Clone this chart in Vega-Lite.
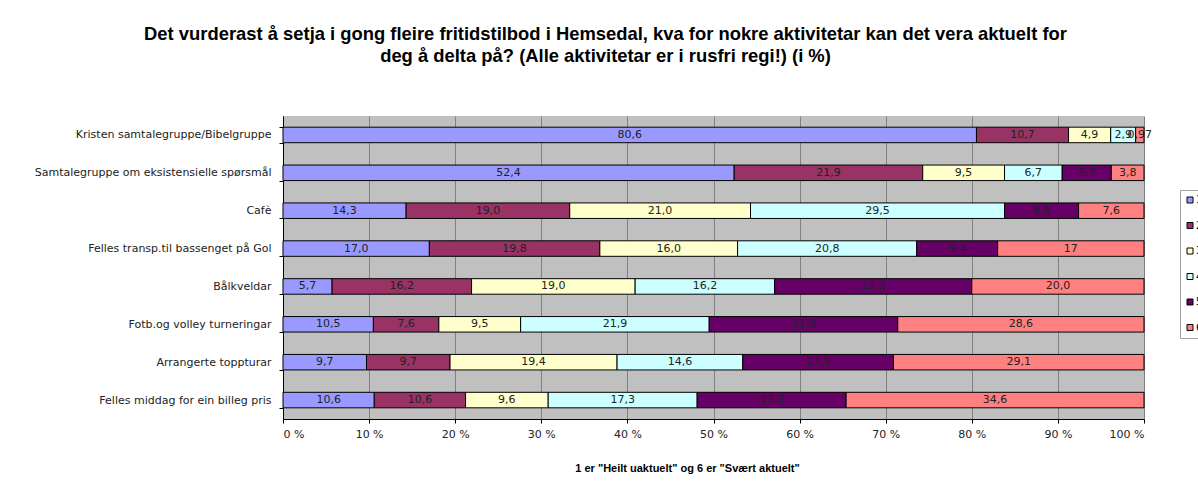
{
  "$schema": "https://vega.github.io/schema/vega-lite/v6.json",
  "width": 861,
  "height": 303,
  "autosize": {"type": "none"},
  "padding": {"left": 283, "top": 116, "right": 54, "bottom": 71},
  "background": "white",
  "title": {
    "text": ["Det vurderast å setja i gong fleire fritidstilbod i Hemsedal, kva for nokre aktivitetar kan det vera aktuelt for", "deg å delta på? (Alle aktivitetar er i rusfri regi!) (i %)"],
    "font": "Liberation Sans",
    "fontSize": 18.4,
    "fontWeight": "bold",
    "color": "#000000",
    "anchor": "middle",
    "dx": -108,
    "baseline": "alphabetic",
    "lineHeight": 22,
    "offset": 30
  },
  "data": {
    "values": [
      {"activity": "Kristen samtalegruppe/Bibelgruppe", "level": "1", "value": 80.6, "label": "80,6"},
      {"activity": "Kristen samtalegruppe/Bibelgruppe", "level": "2", "value": 10.7, "label": "10,7"},
      {"activity": "Kristen samtalegruppe/Bibelgruppe", "level": "3", "value": 4.9, "label": "4,9"},
      {"activity": "Kristen samtalegruppe/Bibelgruppe", "level": "4", "value": 2.9, "label": "2,9"},
      {"activity": "Kristen samtalegruppe/Bibelgruppe", "level": "5", "value": 0.0, "label": "0,0"},
      {"activity": "Kristen samtalegruppe/Bibelgruppe", "level": "6", "value": 0.97, "label": "0,97"},
      {"activity": "Samtalegruppe om eksistensielle spørsmål", "level": "1", "value": 52.4, "label": "52,4"},
      {"activity": "Samtalegruppe om eksistensielle spørsmål", "level": "2", "value": 21.9, "label": "21,9"},
      {"activity": "Samtalegruppe om eksistensielle spørsmål", "level": "3", "value": 9.5, "label": "9,5"},
      {"activity": "Samtalegruppe om eksistensielle spørsmål", "level": "4", "value": 6.7, "label": "6,7"},
      {"activity": "Samtalegruppe om eksistensielle spørsmål", "level": "5", "value": 5.7, "label": "5,7"},
      {"activity": "Samtalegruppe om eksistensielle spørsmål", "level": "6", "value": 3.8, "label": "3,8"},
      {"activity": "Cafè", "level": "1", "value": 14.3, "label": "14,3"},
      {"activity": "Cafè", "level": "2", "value": 19.0, "label": "19,0"},
      {"activity": "Cafè", "level": "3", "value": 21.0, "label": "21,0"},
      {"activity": "Cafè", "level": "4", "value": 29.5, "label": "29,5"},
      {"activity": "Cafè", "level": "5", "value": 8.6, "label": "8,6"},
      {"activity": "Cafè", "level": "6", "value": 7.6, "label": "7,6"},
      {"activity": "Felles transp.til bassenget på Gol", "level": "1", "value": 17.0, "label": "17,0"},
      {"activity": "Felles transp.til bassenget på Gol", "level": "2", "value": 19.8, "label": "19,8"},
      {"activity": "Felles transp.til bassenget på Gol", "level": "3", "value": 16.0, "label": "16,0"},
      {"activity": "Felles transp.til bassenget på Gol", "level": "4", "value": 20.8, "label": "20,8"},
      {"activity": "Felles transp.til bassenget på Gol", "level": "5", "value": 9.4, "label": "9,4"},
      {"activity": "Felles transp.til bassenget på Gol", "level": "6", "value": 17, "label": "17"},
      {"activity": "Bålkveldar", "level": "1", "value": 5.7, "label": "5,7"},
      {"activity": "Bålkveldar", "level": "2", "value": 16.2, "label": "16,2"},
      {"activity": "Bålkveldar", "level": "3", "value": 19.0, "label": "19,0"},
      {"activity": "Bålkveldar", "level": "4", "value": 16.2, "label": "16,2"},
      {"activity": "Bålkveldar", "level": "5", "value": 22.9, "label": "22,9"},
      {"activity": "Bålkveldar", "level": "6", "value": 20.0, "label": "20,0"},
      {"activity": "Fotb.og volley turneringar", "level": "1", "value": 10.5, "label": "10,5"},
      {"activity": "Fotb.og volley turneringar", "level": "2", "value": 7.6, "label": "7,6"},
      {"activity": "Fotb.og volley turneringar", "level": "3", "value": 9.5, "label": "9,5"},
      {"activity": "Fotb.og volley turneringar", "level": "4", "value": 21.9, "label": "21,9"},
      {"activity": "Fotb.og volley turneringar", "level": "5", "value": 21.9, "label": "21,9"},
      {"activity": "Fotb.og volley turneringar", "level": "6", "value": 28.6, "label": "28,6"},
      {"activity": "Arrangerte toppturar", "level": "1", "value": 9.7, "label": "9,7"},
      {"activity": "Arrangerte toppturar", "level": "2", "value": 9.7, "label": "9,7"},
      {"activity": "Arrangerte toppturar", "level": "3", "value": 19.4, "label": "19,4"},
      {"activity": "Arrangerte toppturar", "level": "4", "value": 14.6, "label": "14,6"},
      {"activity": "Arrangerte toppturar", "level": "5", "value": 17.5, "label": "17,5"},
      {"activity": "Arrangerte toppturar", "level": "6", "value": 29.1, "label": "29,1"},
      {"activity": "Felles middag for ein billeg pris", "level": "1", "value": 10.6, "label": "10,6"},
      {"activity": "Felles middag for ein billeg pris", "level": "2", "value": 10.6, "label": "10,6"},
      {"activity": "Felles middag for ein billeg pris", "level": "3", "value": 9.6, "label": "9,6"},
      {"activity": "Felles middag for ein billeg pris", "level": "4", "value": 17.3, "label": "17,3"},
      {"activity": "Felles middag for ein billeg pris", "level": "5", "value": 17.3, "label": "17,3"},
      {"activity": "Felles middag for ein billeg pris", "level": "6", "value": 34.6, "label": "34,6"}
    ]
  },
  "transform": [
    {"stack": "value", "groupby": ["activity"], "sort": [{"field": "level", "order": "ascending"}], "offset": "normalize", "as": ["v0", "v1"]},
    {"calculate": "(datum.v0 + datum.v1) / 2", "as": "mid"}
  ],
  "encoding": {
    "y": {
      "field": "activity",
      "type": "nominal",
      "sort": null,
      "scale": {"paddingInner": 0.59, "paddingOuter": 0.295},
      "axis": {
        "title": null,
        "tickBand": "extent",
        "tickSize": 4,
        "tickColor": "#000000",
        "domainColor": "#000000",
        "labelFont": "DejaVu Sans",
        "labelFontSize": 11,
        "labelColor": "#222222",
        "labelPadding": 8,
        "labelLimit": 320,
        "grid": false
      }
    }
  },
  "layer": [
    {
      "mark": {"type": "bar", "stroke": "#000000", "strokeWidth": 1},
      "encoding": {
        "x": {
          "field": "v0",
          "type": "quantitative",
          "scale": {"domain": [0, 1], "nice": false},
          "axis": {
            "values": [0, 0.1, 0.2, 0.3, 0.4, 0.5, 0.6, 0.7, 0.8, 0.9, 1],
            "labelExpr": "format(datum.value * 100, 'd') + ' %'",
            "grid": true,
            "gridColor": "#808080",
            "gridWidth": 1,
            "tickSize": 4,
            "tickColor": "#000000",
            "domainColor": "#000000",
            "labelFont": "DejaVu Sans",
            "labelFontSize": 11,
            "labelColor": "#222222",
            "labelPadding": 5,
            "title": "1 er \"Heilt uaktuelt\" og 6 er \"Svært aktuelt\"",
            "titleFont": "Liberation Sans",
            "titleFontSize": 11,
            "titleFontWeight": "bold",
            "titleColor": "#000000",
            "titleX": 404,
            "titleY": 52,
            "titleAlign": "center",
            "titleBaseline": "alphabetic"
          }
        },
        "x2": {"field": "v1"},
        "color": {
          "field": "level",
          "type": "nominal",
          "scale": {"domain": ["1", "2", "3", "4", "5", "6"], "range": ["#9999FF", "#993366", "#FFFFCC", "#CCFFFF", "#660066", "#FF8080"]},
          "legend": {
            "title": null,
            "orient": "none",
            "legendX": 897,
            "legendY": 74,
            "symbolType": "square",
            "symbolSize": 36,
            "symbolStrokeColor": "#000000",
            "symbolStrokeWidth": 1,
            "labelFont": "DejaVu Sans",
            "labelFontSize": 10,
            "labelColor": "#000000",
            "labelOffset": 1,
            "rowPadding": 15.5,
            "padding": 5,
            "fillColor": "#FFFFFF",
            "strokeColor": "#A0A0A0"
          }
        }
      }
    },
    {
      "transform": [{"filter": "datum.value > 0"}],
      "mark": {"type": "text", "font": "DejaVu Sans", "fontSize": 11, "color": "#222222", "baseline": "middle", "align": "center"},
      "encoding": {
        "x": {"field": "mid", "type": "quantitative"},
        "text": {"field": "label"}
      }
    }
  ],
  "config": {
    "view": {"fill": "#C0C0C0", "stroke": null}
  }
}
